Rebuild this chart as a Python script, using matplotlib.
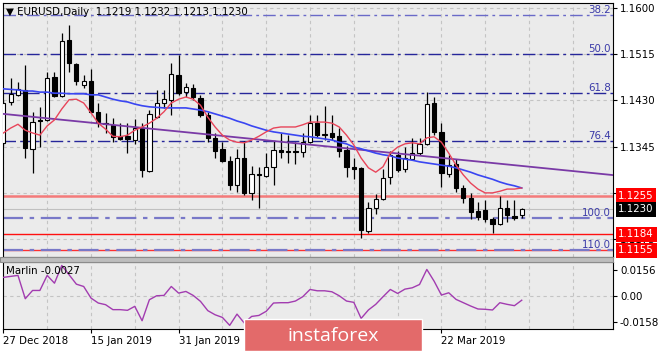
import matplotlib
matplotlib.use("Agg")
import numpy as np
import matplotlib.pyplot as plt
import matplotlib.transforms as mtransforms
from matplotlib.patches import Rectangle

# EURUSD daily candles (index 0 = 27 Dec 2018)
opens = [1.1352, 1.1427, 1.1440, 1.1449, 1.1341, 1.1394, 1.1394, 1.1473, 1.1438, 1.1541,
         1.1497, 1.1458, 1.1465, 1.1409, 1.1388, 1.1385, 1.1364, 1.1364, 1.1357, 1.1379,
         1.1300, 1.1399, 1.1425, 1.1431, 1.1476, 1.1445, 1.1453, 1.1434, 1.1403, 1.1361,
         1.1341, 1.1319, 1.1274, 1.1324, 1.1260, 1.1294, 1.1291, 1.1308, 1.1339, 1.1336,
         1.1336, 1.1335, 1.1353, 1.1388, 1.1367, 1.1370, 1.1364, 1.1339, 1.1308, 1.1306,
         1.1190, 1.1232, 1.1249, 1.1289, 1.1330, 1.1304, 1.1322, 1.1333, 1.1350, 1.1425,
         1.1372, 1.1295, 1.1313, 1.1269, 1.1251, 1.1227, 1.1229, 1.1212, 1.1203, 1.1232,
         1.1218, 1.1219]
highs = [1.1431, 1.1471, 1.1464, 1.1495, 1.1409, 1.1418, 1.1482, 1.1482, 1.1554, 1.1568,
         1.1499, 1.1476, 1.1487, 1.1425, 1.1407, 1.1397, 1.1388, 1.1388, 1.1396, 1.1388,
         1.1412, 1.1449, 1.1449, 1.1498, 1.1513, 1.1462, 1.1460, 1.1440, 1.1409, 1.1370,
         1.1353, 1.1328, 1.1341, 1.1355, 1.1309, 1.1308, 1.1333, 1.1355, 1.1370, 1.1366,
         1.1353, 1.1370, 1.1403, 1.1403, 1.1420, 1.1403, 1.1379, 1.1346, 1.1324, 1.1308,
         1.1243, 1.1258, 1.1304, 1.1337, 1.1337, 1.1344, 1.1361, 1.1361, 1.1445, 1.1436,
         1.1388, 1.1330, 1.1322, 1.1274, 1.1260, 1.1243, 1.1247, 1.1216, 1.1254, 1.1247,
         1.1247, 1.1232]
lows = [1.1346, 1.1421, 1.1438, 1.1324, 1.1297, 1.1344, 1.1392, 1.1436, 1.1436, 1.1482,
        1.1458, 1.1453, 1.1407, 1.1381, 1.1370, 1.1353, 1.1357, 1.1333, 1.1350, 1.1289,
        1.1298, 1.1397, 1.1416, 1.1403, 1.1440, 1.1436, 1.1431, 1.1399, 1.1353, 1.1324,
        1.1317, 1.1265, 1.1262, 1.1256, 1.1247, 1.1232, 1.1289, 1.1274, 1.1324, 1.1315,
        1.1313, 1.1326, 1.1352, 1.1363, 1.1357, 1.1357, 1.1326, 1.1289, 1.1285, 1.1177,
        1.1186, 1.1221, 1.1247, 1.1276, 1.1298, 1.1298, 1.1320, 1.1330, 1.1348, 1.1366,
        1.1271, 1.1289, 1.1262, 1.1241, 1.1212, 1.1210, 1.1207, 1.1186, 1.1201, 1.1207,
        1.1210, 1.1213]
closes = [1.1425, 1.1442, 1.1451, 1.1342, 1.1390, 1.1392, 1.1471, 1.1438, 1.1539, 1.1498,
          1.1465, 1.1465, 1.1409, 1.1390, 1.1386, 1.1363, 1.1359, 1.1359, 1.1379, 1.1302,
          1.1405, 1.1425, 1.1432, 1.1478, 1.1443, 1.1454, 1.1436, 1.1403, 1.1361, 1.1337,
          1.1319, 1.1274, 1.1324, 1.1260, 1.1295, 1.1293, 1.1308, 1.1339, 1.1335, 1.1335,
          1.1335, 1.1353, 1.1388, 1.1366, 1.1368, 1.1363, 1.1337, 1.1308, 1.1304, 1.1192,
          1.1232, 1.1249, 1.1287, 1.1330, 1.1302, 1.1324, 1.1333, 1.1350, 1.1423, 1.1372,
          1.1297, 1.1311, 1.1269, 1.1251, 1.1225, 1.1216, 1.1212, 1.1203, 1.1232, 1.1219,
          1.1214, 1.1230]

# moving averages as drawn on the chart
red_ma = [1.1370, 1.1379, 1.1386, 1.1375, 1.1370, 1.1366, 1.1383, 1.1394, 1.1414, 1.1431,
          1.1432, 1.1425, 1.1407, 1.1388, 1.1377, 1.1364, 1.1363, 1.1366, 1.1375, 1.1381,
          1.1388, 1.1397, 1.1409, 1.1425, 1.1432, 1.1436, 1.1432, 1.1421, 1.1399, 1.1381,
          1.1366, 1.1357, 1.1353, 1.1352, 1.1357, 1.1364, 1.1372, 1.1379, 1.1381, 1.1381,
          1.1381, 1.1385, 1.1390, 1.1390, 1.1390, 1.1388, 1.1381, 1.1366, 1.1348, 1.1324,
          1.1306, 1.1298, 1.1308, 1.1333, 1.1344, 1.1350, 1.1352, 1.1350, 1.1361, 1.1363,
          1.1353, 1.1333, 1.1311, 1.1293, 1.1278, 1.1267, 1.1260, 1.1260, 1.1263, 1.1267,
          1.1267, 1.1269]
blue_ma = [1.1451, 1.1450, 1.1449, 1.1447, 1.1447, 1.1445, 1.1445, 1.1443, 1.1443, 1.1442,
           1.1442, 1.1442, 1.1440, 1.1440, 1.1436, 1.1432, 1.1429, 1.1427, 1.1423, 1.1420,
           1.1418, 1.1417, 1.1416, 1.1416, 1.1416, 1.1416, 1.1414, 1.1412, 1.1409, 1.1405,
           1.1401, 1.1397, 1.1392, 1.1388, 1.1383, 1.1379, 1.1375, 1.1372, 1.1370, 1.1368,
           1.1366, 1.1364, 1.1363, 1.1361, 1.1359, 1.1357, 1.1353, 1.1350, 1.1344, 1.1341,
           1.1337, 1.1333, 1.1330, 1.1328, 1.1324, 1.1322, 1.1320, 1.1317, 1.1315, 1.1313,
           1.1311, 1.1309, 1.1306, 1.1302, 1.1298, 1.1293, 1.1289, 1.1285, 1.1280, 1.1276,
           1.1273, 1.1269]

# purple trend line (bar index, price)
trend_idx = [0, 84]
trend_price = [1.1405, 1.1292]

# Marlin oscillator
marlin = [0.0111, 0.0117, 0.0123, -0.0018, 0.0032, 0.0032, 0.0123, 0.0076, 0.0183, 0.0127,
          0.0070, 0.0056, -0.0014, -0.0044, -0.0054, -0.0084, -0.0084, -0.0088, -0.0064, -0.0151,
          -0.0024, 0.0000, 0.0002, 0.0056, 0.0016, 0.0026, 0.0002, -0.0034, -0.0090, -0.0115,
          -0.0131, -0.0179, -0.0111, -0.0165, -0.0125, -0.0119, -0.0094, -0.0044, -0.0042, -0.0042,
          -0.0032, -0.0006, 0.0038, 0.0030, 0.0030, 0.0024, 0.0000, -0.0032, -0.0040, -0.0137,
          -0.0086, -0.0052, -0.0006, 0.0038, 0.0014, 0.0040, 0.0048, 0.0068, 0.0159, 0.0088,
          0.0004, 0.0018, -0.0022, -0.0042, -0.0062, -0.0080, -0.0082, -0.0086, -0.0042, -0.0052,
          -0.0060, -0.0027]

# fibonacci levels
fib_labels = ["38.2", "50.0", "61.8", "76.4", "100.0", "110.0"]
fib_prices = [1.1586, 1.1515, 1.1444, 1.1356, 1.1214, 1.1155]

# horizontal levels
support_prices = [1.1255, 1.1184, 1.1155]

price_ticks = [1.1600, 1.1515, 1.1430, 1.1345, 1.1260, 1.1175]
price_tick_labels = ["1.1600", "1.1515", "1.1430", "1.1345", "", "1.1175"]
marlin_ticks = [0.0156, 0.0, -0.0158]
marlin_tick_labels = ["0.0156", "0.00", "-0.0158"]
# labels at 36 and 48 sit under the watermark in the original
date_idx = [0, 12, 24, 36, 48, 60]
date_labels = ["27 Dec 2018", "15 Jan 2019", "31 Jan 2019", "", "", "22 Mar 2019"]

W, H = 665, 351
FS = 7.4


def fx(px):
    return px / W


def fy(py):
    return 1 - py / H


fig = plt.figure(figsize=(W / 100, H / 100), dpi=100)
fig.patch.set_facecolor("white")

ax = fig.add_axes([fx(3), fy(257), (613 - 3) / W, (257 - 3) / H])
axm = fig.add_axes([fx(3), fy(329), (613 - 3) / W, (329 - 262) / H])

bg = "#ebebeb"
grid_col = "#c4c4c4"
x_lim = (-0.05, 83.5)
grid_idx = np.arange(0, 84, 6)

# ---- main price panel
ax.set_facecolor(bg)
ax.set_xlim(*x_lim)
ax.set_ylim(1.11423, 1.16086)
ax.set_xticks(grid_idx)
ax.tick_params(axis="x", bottom=False, labelbottom=False)
ax.yaxis.tick_right()
ax.set_yticks(price_ticks)
ax.set_yticklabels(price_tick_labels)
ax.tick_params(axis="y", length=3, width=0.8, pad=2, labelsize=FS, colors="black")
ax.grid(True, color=grid_col, linestyle=(0, (3, 3)), linewidth=0.8, zorder=0)
ax.set_axisbelow(True)
for sp in ax.spines.values():
    sp.set_color("black")
    sp.set_linewidth(0.8)

idx = np.arange(len(closes))
o = np.array(opens)
c = np.array(closes)

# levels behind the candles
ax.axhline(closes[-1], color="#c0c0c0", lw=0.8, zorder=1)
ax.axhline(support_prices[0], color="#f47a7a", lw=1.8, zorder=1)
ax.axhline(support_prices[1], color="#ff1010", lw=1.0, zorder=1)
ax.axhline(support_prices[2], color="#ff3030", lw=1.0, zorder=1)
fib_cols = ["#6a6ac8", "#26269a", "#26269a", "#26269a", "#7878c8", "#7878c8"]
fib_lw = [1.0, 1.0, 1.0, 1.0, 1.6, 1.6]
lab_tr = mtransforms.blended_transform_factory(ax.transAxes, ax.transData)
for lab, p, col, lw in zip(fib_labels, fib_prices, fib_cols, fib_lw):
    ax.axhline(p, color=col, lw=lw, linestyle=(0, (9, 3, 2, 3)), zorder=1.5)
    ax.text(0.9965, p, lab, transform=lab_tr, ha="right", va="bottom",
            fontsize=FS, color="#3a3aa8", zorder=2)

# candles
ax.vlines(idx, lows, highs, color="black", lw=0.9, zorder=3)
body = np.maximum(np.abs(c - o), 0.00009)
face = np.where(c >= o, "white", "black")
ax.bar(idx, body, bottom=np.minimum(o, c), width=0.58, color=face,
       edgecolor="black", linewidth=0.8, zorder=4)

# indicators
ax.plot(trend_idx, trend_price, color="#7a3aa6", lw=1.3, zorder=5)
ax.plot(idx, blue_ma, color="#3a46f2", lw=1.2, zorder=5)
ax.plot(idx, red_ma, color="#e8455a", lw=1.0, zorder=6)

# price tags on the right scale
tag_specs = [(support_prices[0], "#ff0000"), (closes[-1], "black"),
             (support_prices[1], "#ff0000"), (support_prices[2], "#ff0000")]
for p, fc in tag_specs:
    ax.text(1.0085, p, f"{p:.4f}", transform=lab_tr, ha="left", va="center",
            fontsize=FS, color="white", clip_on=False, zorder=20,
            bbox=dict(boxstyle="square,pad=0.25", fc=fc, ec="none"))

# ---- Marlin panel
axm.set_facecolor(bg)
axm.set_xlim(*x_lim)
axm.set_ylim(-0.0201, 0.0204)
axm.set_xticks(grid_idx, minor=True)
axm.set_xticks(date_idx)
axm.set_xticklabels(date_labels, ha="left")
axm.tick_params(axis="x", which="major", length=3, width=0.8, pad=2, labelsize=FS)
axm.tick_params(axis="x", which="minor", length=0)
axm.grid(True, axis="x", which="both", color=grid_col, linestyle=(0, (3, 3)), linewidth=0.8)
axm.set_axisbelow(True)
axm.yaxis.tick_right()
axm.set_yticks(marlin_ticks)
axm.set_yticklabels(marlin_tick_labels)
axm.tick_params(axis="y", length=3, width=0.8, pad=2, labelsize=FS)
axm.axhline(0, color=grid_col, linestyle=(0, (3, 3)), lw=0.8, zorder=0.5)
for sp in axm.spines.values():
    sp.set_color("black")
    sp.set_linewidth(0.8)
axm.plot(idx, marlin, color="#a23cb0", lw=1.0, zorder=3)

# separator between panels
fig.patches.append(Rectangle((0, fy(262)), fx(613), 5 / H, transform=fig.transFigure,
                             fc="#bdbdbd", ec="#8c8c8c", lw=0.8, zorder=5))

# header texts
fig.text(fx(6), fy(12), "\u25bc EURUSD,Daily  1.1219 1.1232 1.1213 1.1230",
         fontsize=FS, va="center", ha="left", zorder=6)
fig.text(fx(6), fy(271), "Marlin -0.0027", fontsize=FS, va="center", ha="left", zorder=6)

# watermark
fig.patches.append(Rectangle((fx(244), 0), (422 - 244) / W, (351 - 319) / H,
                             transform=fig.transFigure, fc="#e36a6a", ec="white",
                             lw=1.0, zorder=10))
fig.text(fx(333), fy(336), "instaforex", color="white", fontsize=14,
         family=["Open Sans", "DejaVu Sans"], ha="center", va="center", zorder=11)

fig.savefig("out.png", dpi=100, facecolor="white")
